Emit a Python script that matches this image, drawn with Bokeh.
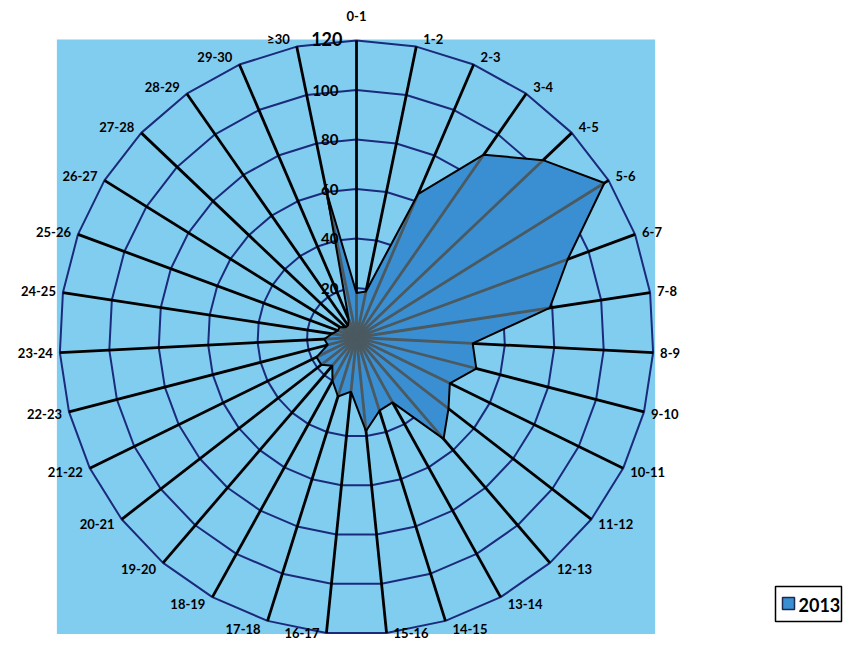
import math
from bokeh.plotting import figure
from bokeh.models import Range1d
from bokeh.core.properties import value
from bokeh.embed import file_html
from bokeh.resources import INLINE

# ---- data ----
categories = ["0-1", "1-2", "2-3", "3-4", "4-5", "5-6", "6-7", "7-8", "8-9", "9-10",
              "10-11", "11-12", "12-13", "13-14", "14-15", "15-16", "16-17", "17-18",
              "18-19", "19-20", "20-21", "21-22", "22-23", "23-24", "24-25", "25-26",
              "26-27", "27-28", "28-29", "29-30", "≥30"]
values_2013 = [18, 19, 63, 90, 104, 118, 91, 79, 47, 50,
               42, 47, 54, 30, 31, 38, 22, 25,
               20, 15, 18, 18, 12, 13, 10, 8,
               8, 6, 6, 8, 60]
tick_values = [20, 40, 60, 80, 100, 120]
tick_labels = ["20", "40", "60", "80", "100", "120"]
series_name = "2013"
r_max = 120

# ---- geometry ----
CX, CY, R = 356, 337, 297
scale = R / r_max
n = len(categories)
angles = [2 * math.pi * k / n for k in range(n)]


def pt(v, a):
    return CX + v * scale * math.sin(a), CY - v * scale * math.cos(a)


p = figure(width=843, height=640, x_range=Range1d(0, 843), y_range=Range1d(640, 0),
           min_border=0, toolbar_location=None, output_backend="svg",
           x_axis_type=None, y_axis_type=None, outline_line_color=None)
p.grid.visible = False
p.background_fill_color = "white"
p.border_fill_color = "white"

# background square
ox = [pt(r_max, a)[0] for a in angles]
oy = [pt(r_max, a)[1] for a in angles]
p.quad(left=min(ox) - 3, right=max(ox) + 2, top=min(oy) - 1, bottom=max(oy) + 1,
       fill_color="#80cdf0", line_color=None)

# rings
for t in tick_values:
    xs = [pt(t, a)[0] for a in angles] + [pt(t, angles[0])[0]]
    ys = [pt(t, a)[1] for a in angles] + [pt(t, angles[0])[1]]
    p.line(xs, ys, line_color="#1b2a7a", line_width=2)

# spokes
p.segment(x0=[CX] * n, y0=[CY] * n, x1=ox, y1=oy, line_color="black", line_width=2.8)

# data polygon
dx = [pt(v, a)[0] for v, a in zip(values_2013, angles)]
dy = [pt(v, a)[1] for v, a in zip(values_2013, angles)]
p.patch(dx, dy, fill_color="#3a8fd3", fill_alpha=1.0, line_color=None)
p.segment(x0=[CX] * n, y0=[CY] * n, x1=dx, y1=dy, line_color="#4b5960", line_width=2.8)
p.patch(dx, dy, fill_alpha=0, line_color="black", line_width=2)

# value labels
p.text(x=[CX - 18] * 5, y=[pt(t, 0)[1] for t in tick_values[:5]], text=tick_labels[:5],
       text_align="right", text_baseline="middle", text_font=value("Lato"),
       text_font_style="bold", text_font_size="15px", text_color="black")
p.text(x=[CX - 14], y=[pt(tick_values[5], 0)[1] - 2], text=tick_labels[5:],
       text_align="right", text_baseline="middle", text_font=value("Lato"),
       text_font_style="bold", text_font_size="18px", text_color="black")

# category labels
for align in ("left", "right", "center"):
    lx, ly, lt = [], [], []
    for c, a in zip(categories, angles):
        s, co = math.sin(a), math.cos(a)
        vx, vy = pt(r_max, a)
        if abs(s) < 0.05:
            al = "center"
            x, y = vx, vy - co * 25
        else:
            al = "left" if s > 0 else "right"
            x, y = vx + (7 if s > 0 else -7), vy - co * 8
        y = min(y, 632)
        if al == align:
            lx.append(x)
            ly.append(y)
            lt.append(c)
    if lt:
        p.text(x=lx, y=ly, text=lt, text_align=align, text_baseline="middle",
               text_font=value("Lato"), text_font_style="bold", text_font_size="13px",
               text_color="black")

# legend
p.quad(left=775, right=841, top=586, bottom=621, fill_color="white",
       line_color="black", line_width=1.5)
p.quad(left=782, right=794, top=597, bottom=609, fill_color="#3a8fd3",
       line_color="#1a2a50", line_width=1.5)
p.text(x=[798], y=[604], text=[series_name], text_align="left", text_baseline="middle",
       text_font=value("Lato"), text_font_style="bold", text_font_size="18px",
       text_color="black")

open("out.html", "w").write(file_html(p, INLINE))
